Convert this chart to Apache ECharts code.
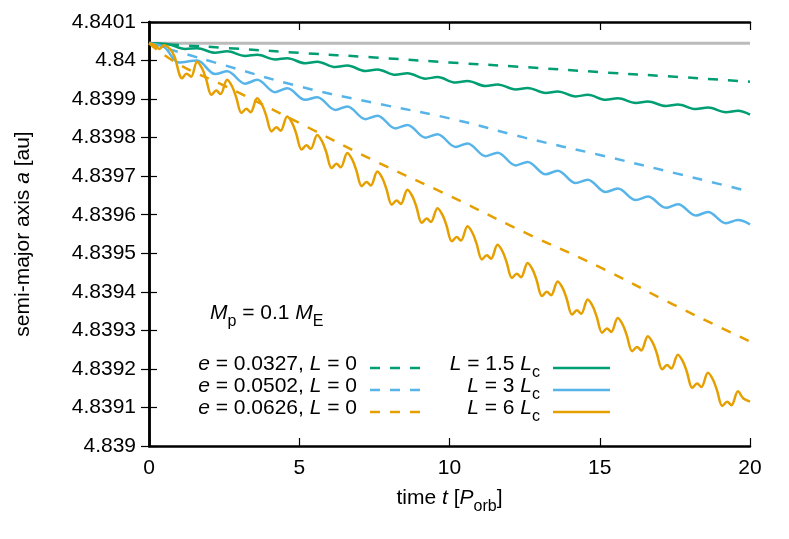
<!DOCTYPE html>
<html>
<head>
<meta charset="utf-8">
<script src="https://cdn.jsdelivr.net/npm/echarts@6/dist/echarts.min.js"></script>
<style>html,body{margin:0;padding:0;background:#fff}#main{width:789px;height:539px}</style>
</head>
<body>
<div id="main"></div>
<script>
// reference level (initial semi-major axis)
var a0 = 4.840045;

// dashed: L = 0 runs
var tDash = [0, 1, 2.5, 5, 7.5, 10, 12.5, 15, 17.5, 20];
var greenDash = [4.840045, 4.840040, 4.840033, 4.840020, 4.840008, 4.839995, 4.839983, 4.839970, 4.839958, 4.839945];
var blueDash = [4.840045, 4.840022, 4.839988, 4.839933, 4.839890, 4.839850, 4.839800, 4.839755, 4.839708, 4.839660];
var orangeDash = [4.840045, 4.839990, 4.839935, 4.839838, 4.839740, 4.839649, 4.839554, 4.839464, 4.839365, 4.839271];

// solid: luminous runs
var tGreen = [0, 0.6, 1.2, 1.6, 2.2, 2.6, 3.2, 3.6, 4.2, 4.6, 5.2, 5.6, 6.2, 6.6, 7.2, 7.6, 8.2, 8.6, 9.2, 9.6, 10.2, 10.6,
  11.2, 11.6, 12.2, 12.6, 13.2, 13.6, 14.2, 14.6, 15.2, 15.6, 16.2, 16.6, 17.2, 17.6, 18.2, 18.6, 19.2, 19.6, 20];
var green = [4.840045, 4.840043, 4.840030, 4.840032, 4.840020, 4.840024, 4.840012, 4.840015, 4.840003, 4.840006,
  4.839993, 4.839997, 4.839983, 4.839987, 4.839973, 4.839977, 4.839963, 4.839967, 4.839953, 4.839957,
  4.839943, 4.839947, 4.839934, 4.839938, 4.839925, 4.839929, 4.839916, 4.839920, 4.839907, 4.839911,
  4.839898, 4.839902, 4.839890, 4.839894, 4.839882, 4.839886, 4.839874, 4.839878, 4.839866, 4.839870, 4.839860];

var tBlue = [0, 0.5, 1.0, 1.6, 2.2, 2.6, 3.2, 3.6, 4.2, 4.6, 5.2, 5.6, 6.2, 6.6, 7.2, 7.6, 8.2, 8.6, 9.2, 9.6, 10.2, 10.6,
  11.2, 11.6, 12.2, 12.6, 13.2, 13.6, 14.2, 14.6, 15.2, 15.6, 16.2, 16.6, 17.2, 17.6, 18.2, 18.6, 19.2, 19.6, 20];
var blue = [4.840045, 4.840035, 4.839995, 4.840000, 4.839965, 4.839972, 4.839940, 4.839950, 4.839918, 4.839928,
  4.839898, 4.839905, 4.839872, 4.839881, 4.839848, 4.839857, 4.839824, 4.839833, 4.839800, 4.839809,
  4.839776, 4.839785, 4.839752, 4.839761, 4.839728, 4.839737, 4.839705, 4.839714, 4.839682, 4.839691,
  4.839659, 4.839668, 4.839638, 4.839647, 4.839618, 4.839627, 4.839598, 4.839607, 4.839578, 4.839586, 4.839575];

var tOrange = [0, 0.2, 0.35, 0.5, 0.7, 0.85, 1.1, 1.25, 1.4,
  1.6, 1.77, 1.9, 2.08, 2.24, 2.38,
  2.6, 2.77, 2.9, 3.08, 3.24, 3.38,
  3.6, 3.77, 3.9, 4.08, 4.24, 4.38,
  4.6, 4.77, 4.9, 5.08, 5.24, 5.38,
  5.6, 5.77, 5.9, 6.08, 6.24, 6.38,
  6.6, 6.77, 6.9, 7.08, 7.24, 7.38,
  7.6, 7.77, 7.9, 8.08, 8.24, 8.38,
  8.6, 8.77, 8.9, 9.08, 9.24, 9.38,
  9.6, 9.77, 9.9, 10.08, 10.24, 10.38,
  10.6, 10.77, 10.9, 11.08, 11.24, 11.38,
  11.6, 11.77, 11.9, 12.08, 12.24, 12.38,
  12.6, 12.77, 12.9, 13.08, 13.24, 13.38,
  13.6, 13.77, 13.9, 14.08, 14.24, 14.38,
  14.6, 14.77, 14.9, 15.08, 15.24, 15.38,
  15.6, 15.77, 15.9, 16.08, 16.24, 16.38,
  16.6, 16.77, 16.9, 17.08, 17.24, 17.38,
  17.6, 17.77, 17.9, 18.08, 18.24, 18.38,
  18.6, 18.77, 18.9, 19.08, 19.24, 19.38,
  19.6, 19.77, 20];
var orange = [4.840045, 4.840040, 4.840030, 4.840040, 4.840030, 4.840010, 4.839954, 4.839966, 4.839958,
  4.839997, 4.839979, 4.839952, 4.839911, 4.839922, 4.839913,
  4.839950, 4.839932, 4.839905, 4.839864, 4.839875, 4.839866,
  4.839902, 4.839884, 4.839857, 4.839816, 4.839827, 4.839818,
  4.839855, 4.839837, 4.839810, 4.839769, 4.839780, 4.839771,
  4.839807, 4.839789, 4.839762, 4.839721, 4.839732, 4.839723,
  4.839760, 4.839742, 4.839715, 4.839674, 4.839685, 4.839676,
  4.839712, 4.839694, 4.839667, 4.839626, 4.839637, 4.839628,
  4.839665, 4.839647, 4.839620, 4.839579, 4.839590, 4.839581,
  4.839617, 4.839599, 4.839572, 4.839531, 4.839542, 4.839533,
  4.839570, 4.839552, 4.839525, 4.839484, 4.839495, 4.839486,
  4.839522, 4.839504, 4.839477, 4.839436, 4.839447, 4.839438,
  4.839475, 4.839457, 4.839430, 4.839389, 4.839400, 4.839391,
  4.839427, 4.839409, 4.839382, 4.839341, 4.839352, 4.839343,
  4.839380, 4.839362, 4.839335, 4.839294, 4.839305, 4.839296,
  4.839332, 4.839314, 4.839287, 4.839246, 4.839257, 4.839248,
  4.839285, 4.839267, 4.839240, 4.839199, 4.839210, 4.839201,
  4.839237, 4.839219, 4.839192, 4.839151, 4.839162, 4.839153,
  4.839190, 4.839172, 4.839145, 4.839104, 4.839115, 4.839106,
  4.839142, 4.839124, 4.839115];

var cGreen = '#009e73', cBlue = '#56b4e9', cOrange = '#e69f00';

function zip(t, v) {
    return t.map(function (x, i) { return [x, v[i]]; });
}

function solid(name, t, v, color) {
    return { name: name, type: 'line', data: zip(t, v), smooth: 0.35, showSymbol: false,
        lineStyle: { color: color, width: 2.5 }, z: 3 };
}
function dashed(name, t, v, color) {
    return { name: name, type: 'line', data: zip(t, v), smooth: true, showSymbol: false,
        lineStyle: { color: color, width: 2.5, type: [10, 10] }, z: 2 };
}

var font = 'Liberation Sans, Arial, sans-serif';
var rich = {
    i: { fontStyle: 'italic', fontSize: 21, fontFamily: font, color: '#000' },
    n: { fontSize: 21, fontFamily: font, color: '#000' },
    s: { fontSize: 16, fontFamily: font, color: '#000', verticalAlign: 'bottom', padding: [0, 0, -6, 0] }
};

var myChart = echarts.init(document.getElementById('main'));
var axisCommon = {
    axisLine: { lineStyle: { color: '#000', width: 2.5 } },
    axisTick: { inside: true, length: 8, lineStyle: { color: '#000', width: 1.2 } },
    splitLine: { show: false }
};

function legendItem(x, y, text, color, dash) {
    return [
        { type: 'text', right: 789 - x, top: y - 14, style: { text: text, rich: rich, textAlign: 'right' } },
        { type: 'line', shape: { x1: x + 13, y1: y, x2: x + 70, y2: y },
          style: { stroke: color, lineWidth: 2.5, lineDash: dash ? [10, 10] : null } }
    ];
}

var graphics = [
    { type: 'text', left: 210, top: 303, style: { text: '{i|M}{s|p}{n| = 0.1 }{i|M}{s|E}', rich: rich } }
];
graphics = graphics.concat(
    legendItem(357, 368, '{i|e}{n| = 0.0327, }{i|L}{n| = 0}', cGreen, true),
    legendItem(357, 390, '{i|e}{n| = 0.0502, }{i|L}{n| = 0}', cBlue, true),
    legendItem(357, 412, '{i|e}{n| = 0.0626, }{i|L}{n| = 0}', cOrange, true),
    legendItem(540, 368, '{i|L}{n| = 1.5 }{i|L}{s|c}', cGreen, false),
    legendItem(540, 390, '{i|L}{n| = 3 }{i|L}{s|c}', cBlue, false),
    legendItem(540, 412, '{i|L}{n| = 6 }{i|L}{s|c}', cOrange, false)
);

option = {
    animation: false,
    backgroundColor: '#fff',
    grid: { left: 149, right: 39, top: 22, bottom: 93 },
    xAxis: [
        Object.assign({ type: 'value', min: 0, max: 20, interval: 5, position: 'bottom',
            axisLabel: { fontSize: 21, fontFamily: font, color: '#000', margin: 12 },
            name: '{n|time }{i|t}{n| [}{i|P}{s|orb}{n|]}', nameLocation: 'middle', nameGap: 42,
            nameTextStyle: { rich: rich } }, axisCommon),
        Object.assign({ type: 'value', min: 0, max: 20, interval: 5, position: 'top',
            axisLabel: { show: false } }, axisCommon)
    ],
    yAxis: [
        Object.assign({ type: 'value', min: 4.839, max: 4.8401, interval: 0.0001, position: 'left',
            axisLabel: { fontSize: 21, fontFamily: font, color: '#000', margin: 13,
                formatter: function (v) { return String(parseFloat(v.toFixed(4))); } },
            name: '{n|semi-major axis }{i|a}{n| [au]}', nameLocation: 'middle', nameGap: 115,
            nameTextStyle: { rich: rich } }, axisCommon),
        Object.assign({ type: 'value', min: 4.839, max: 4.8401, interval: 0.0001, position: 'right',
            axisLabel: { show: false } }, axisCommon)
    ],
    series: [
        { name: 'a0', type: 'line', data: [[0, a0], [20, a0]], showSymbol: false,
          lineStyle: { color: '#bbbbbb', width: 3 }, z: 1 },
        dashed('g0', tDash, greenDash, cGreen),
        dashed('b0', tDash, blueDash, cBlue),
        dashed('o0', tDash, orangeDash, cOrange),
        solid('g', tGreen, green, cGreen),
        solid('b', tBlue, blue, cBlue),
        solid('o', tOrange, orange, cOrange)
    ],
    graphic: graphics
};

myChart.setOption(option);
</script>
</body>
</html>
